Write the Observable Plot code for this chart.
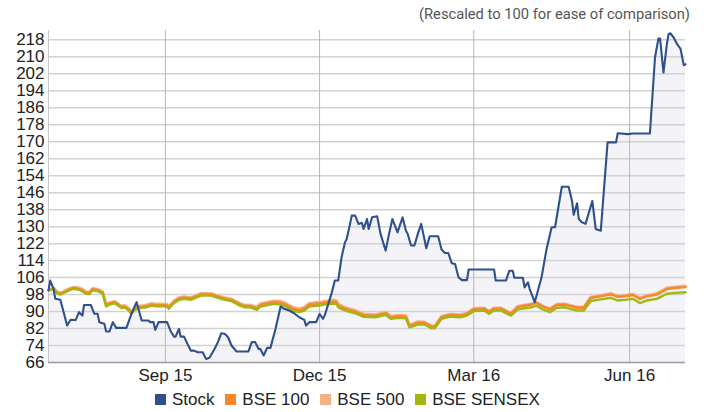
<!DOCTYPE html>
<html><head><meta charset="utf-8">
<script src="https://cdn.jsdelivr.net/npm/d3@7"></script>
<script src="https://cdn.jsdelivr.net/npm/@observablehq/plot@0.6"></script>
<style>
body{margin:0;background:#fff;font-family:"Liberation Sans",Arial,sans-serif;}
#wrap{position:relative;width:707px;height:412px;overflow:hidden;}
#legend{position:absolute;left:155px;top:391px;display:flex;align-items:center;gap:10.8px;font-size:17px;line-height:17px;color:#222;white-space:nowrap;}
.item{display:flex;align-items:center;gap:6px;}
.sw{width:11px;height:11px;display:inline-block;}
</style></head><body><div id="wrap"></div>
<script>
const stockDates = ["2015-06-24","2015-06-25","2015-06-27","2015-06-28","2015-07-01","2015-07-05","2015-07-07","2015-07-10","2015-07-12","2015-07-14","2015-07-15","2015-07-19","2015-07-21","2015-07-23","2015-07-24","2015-07-27","2015-07-28","2015-07-30","2015-08-01","2015-08-03","2015-08-09","2015-08-12","2015-08-15","2015-08-18","2015-08-22","2015-08-23","2015-08-25","2015-08-26","2015-08-28","2015-09-02","2015-09-04","2015-09-06","2015-09-07","2015-09-09","2015-09-10","2015-09-12","2015-09-14","2015-09-16","2015-09-18","2015-09-20","2015-09-23","2015-09-25","2015-09-27","2015-09-30","2015-10-02","2015-10-04","2015-10-06","2015-10-08","2015-10-10","2015-10-13","2015-10-20","2015-10-22","2015-10-24","2015-10-26","2015-10-27","2015-10-29","2015-10-31","2015-11-02","2015-11-05","2015-11-08","2015-11-10","2015-11-13","2015-11-16","2015-11-19","2015-11-22","2015-11-23","2015-11-25","2015-11-29","2015-12-01","2015-12-03","2015-12-04","2015-12-08","2015-12-10","2015-12-12","2015-12-14","2015-12-16","2015-12-17","2015-12-19","2015-12-20","2015-12-22","2015-12-24","2015-12-26","2015-12-27","2015-12-29","2015-12-30","2016-01-01","2016-01-04","2016-01-06","2016-01-09","2016-01-11","2016-01-13","2016-01-16","2016-01-19","2016-01-21","2016-01-22","2016-01-24","2016-01-26","2016-01-28","2016-01-30","2016-02-02","2016-02-04","2016-02-09","2016-02-11","2016-02-13","2016-02-15","2016-02-17","2016-02-19","2016-02-21","2016-02-23","2016-02-26","2016-02-27","2016-03-13","2016-03-14","2016-03-20","2016-03-22","2016-03-24","2016-03-25","2016-03-30","2016-03-31","2016-04-02","2016-04-03","2016-04-06","2016-04-10","2016-04-13","2016-04-16","2016-04-18","2016-04-22","2016-04-26","2016-04-28","2016-04-29","2016-05-01","2016-05-02","2016-05-04","2016-05-06","2016-05-10","2016-05-12","2016-05-15","2016-05-19","2016-05-24","2016-05-25","2016-05-31","2016-06-03","2016-06-13","2016-06-16","2016-06-18","2016-06-19","2016-06-21","2016-06-23","2016-06-24","2016-06-25","2016-06-27","2016-06-29","2016-07-01","2016-07-03","2016-07-04"];
const stockValues = [100,104.6,100.7,96,95.6,83.4,86.1,86,89.7,88.1,93.1,93.1,89,89,85,84.2,80.6,80.6,85,82.3,82.3,89,94.4,85.8,85.8,85,85,81.4,85,85,81,78.2,78.2,81.8,78.2,78.2,74.8,71.6,71.6,70.8,70.8,67.7,68.2,72.4,75.6,79.8,79.5,77.9,74,71.2,71.2,75.6,75.6,72.4,72.4,69.3,72.9,72.9,81.8,92.4,91.3,90.5,89.2,87.3,86.1,83.4,85,85,88.9,86.6,88.1,98.3,104.6,104.6,115.6,122.6,124.2,131.3,135.2,135.2,131.3,131.8,128.9,133.6,128.9,134.4,134.9,126.6,118.7,126.6,133.6,127.3,134.4,128.1,126.6,121.1,121.1,126.6,131.3,119.8,125.5,125.5,119.2,117.6,117.6,112.8,112.4,106.2,104.8,104.8,109.8,109.8,104.6,104.6,109.2,109.2,105.9,105.9,101.4,103.8,100.7,94.4,106,119.5,129.7,129.7,148.8,148.8,142.2,135.6,141,133.6,132,131.3,142.1,128.9,128.1,169.7,169.7,174,173.6,173.9,173.9,209.7,218.6,218.6,202.6,216,220.7,221.1,219.1,216,213.9,206.1,206.5];

const indexDates = ["2015-06-24","2015-06-27","2015-06-29","2015-07-01","2015-07-04","2015-07-07","2015-07-09","2015-07-12","2015-07-14","2015-07-16","2015-07-18","2015-07-20","2015-07-23","2015-07-26","2015-07-28","2015-07-30","2015-08-02","2015-08-04","2015-08-06","2015-08-08","2015-08-10","2015-08-12","2015-08-14","2015-08-17","2015-08-20","2015-08-24","2015-08-26","2015-08-30","2015-09-02","2015-09-03","2015-09-06","2015-09-09","2015-09-12","2015-09-16","2015-09-19","2015-09-22","2015-09-28","2015-10-01","2015-10-06","2015-10-10","2015-10-15","2015-10-18","2015-10-21","2015-10-25","2015-10-27","2015-10-30","2015-11-04","2015-11-08","2015-11-11","2015-11-15","2015-11-19","2015-11-22","2015-11-25","2015-12-02","2015-12-06","2015-12-09","2015-12-11","2015-12-12","2015-12-16","2015-12-22","2015-12-27","2016-01-03","2016-01-09","2016-01-12","2016-01-17","2016-01-21","2016-01-23","2016-01-25","2016-01-28","2016-02-01","2016-02-05","2016-02-07","2016-02-11","2016-02-16","2016-02-22","2016-02-26","2016-03-01","2016-03-07","2016-03-10","2016-03-13","2016-03-17","2016-03-20","2016-03-23","2016-03-27","2016-04-04","2016-04-07","2016-04-10","2016-04-15","2016-04-19","2016-04-24","2016-04-27","2016-05-01","2016-05-05","2016-05-09","2016-05-17","2016-05-21","2016-05-25","2016-05-29","2016-06-03","2016-06-07","2016-06-11","2016-06-17","2016-06-23","2016-06-28","2016-07-04"];
const sensex = [100,100.5,98.6,98,99.1,100.2,100.7,100.2,99.6,98.4,98.2,100,99.6,98.4,92.4,93.3,
93.9,92.8,91.7,91.9,90.8,89,90.8,91.7,91.9,92.8,92.5,92.5,
92.4,91.3,93.9,95.5,96,95.5,96.5,97.5,97.5,
96.7,95.5,94.9,92.8,92,92,90.8,92.4,92.8,
93.6,93.3,92.4,90.5,89.7,90.5,92.4,
93,93.5,93.8,93.5,92,90.5,89.2,87.5,
87.3,88.5,86.6,87,86.8,82.6,83,84,
83.9,82.1,82.1,86.6,87.6,87.3,88.1,
90.2,90.5,89,90.5,90.5,89.2,88.1,91,
92,92.8,91.3,89.7,91.8,92,91.3,
90.5,90.5,95,96,96.5,95.2,95.5,
96,94,95.2,96,98.4,98.8,
99.1];
const bse100 = [100,100.9,99.0,98.4,99.5,100.7,101.2,100.7,100.1,98.9,98.7,100.5,100.1,98.9,92.9,93.8,
94.4,93.3,92.2,92.4,91.3,89.5,91.3,92.2,92.4,93.3,93,93,
92.9,91.8,94.5,96.1,96.6,96.1,97.1,98.1,98.1,
97.3,96.1,95.5,93.4,92.6,92.6,91.5,93.1,93.6,
94.4,94.2,93.3,91.4,90.6,91.4,93.3,
93.9,94.4,94.7,94.4,92.9,91.4,90,88.3,
88.1,89.3,87.4,87.8,87.6,83.4,83.8,84.8,
84.7,82.9,82.9,87.4,88.4,88.1,88.9,
91.1,91.4,89.9,91.4,91.4,90.1,89,92.1,
93.3,94.1,92.6,91,93.1,93.3,92.6,
91.8,91.8,96.4,97.5,98.1,96.9,97.2,
97.8,95.9,97.1,98,100.6,101.1,
101.5];
const bse500 = [100,101.3,99.4,98.8,100,101.1,101.6,101.2,100.6,99.4,99.2,101,100.6,99.4,93.4,94.3,
94.9,93.8,92.7,92.9,91.8,90,91.8,92.7,93,93.9,93.6,93.6,
93.5,92.4,95,96.6,97.1,96.6,97.6,98.6,98.6,
97.8,96.6,96,93.9,93.1,93.2,92.1,93.8,94.3,
95.1,94.9,94,92.1,91.3,92.1,94,
94.6,95.2,95.5,95.2,93.6,92,90.6,88.9,
88.6,89.8,87.9,88.3,88.1,83.9,84.3,85.3,
85.2,83.3,83.3,87.9,88.9,88.6,89.4,
91.5,91.8,90.3,91.8,91.8,90.5,89.4,92.6,
93.7,94.5,93,91.4,93.5,93.7,93,
92.2,92.2,96.9,98,98.6,97.4,97.7,
98.3,96.4,97.6,98.6,101.2,101.7,
102.1];

const yTicks = [66,74,82,90,98,106,114,122,130,138,146,154,162,170,178,186,194,202,210,218];
const xTicks = ["2015-09-01","2015-12-01","2016-03-01","2016-06-01"];
const xDomain = ["2015-06-24","2016-07-04"];
const yDomain = [66, 222.4];
const seriesNames = ["Stock","BSE 100","BSE 500","BSE SENSEX"];
const seriesColors = ["#30508c","#f7862d","#f4b183","#a3b70e"];
const subtitle = "(Rescaled to 100 for ease of comparison)";

const parse = d3.utcParse("%Y-%m-%d");
const stock = stockDates.map((d, i) => ({date: parse(d), v: stockValues[i]}));
const mk = (arr) => indexDates.map((d, i) => ({date: parse(d), v: arr[i]}));
const d100 = mk(bse100), d500 = mk(bse500), dsx = mk(sensex);

const chart = Plot.plot({
  width: 707, height: 388,
  marginLeft: 48, marginRight: 22, marginTop: 30, marginBottom: 26,
  style: {fontFamily: "'Liberation Sans', Arial, sans-serif", fontSize: "17px", color: "#222", background: "white", overflow: "visible"},
  x: {type: "utc", domain: xDomain.map(parse), ticks: xTicks.map(parse), tickFormat: d3.utcFormat("%b %y"), tickSize: 0, tickPadding: 6, label: null},
  y: {domain: yDomain, ticks: yTicks, tickSize: 0, tickPadding: 4, label: null},
  marks: [
    Plot.areaY(stock, {x: "date", y1: yDomain[0], y2: "v", fill: "#f4f4f8"}),
    Plot.ruleY(yTicks, {stroke: "#d2d2d2", strokeWidth: 1.5}),
    Plot.ruleX(xTicks.map(parse), {stroke: "#b8b8b8", strokeWidth: 1}),
    Plot.ruleX([parse(xDomain[0])], {stroke: "#c8c8c8", strokeWidth: 1}),
    Plot.ruleY([yDomain[0]], {stroke: "#a0a0a0", strokeWidth: 1.5}),
    Plot.lineY(d500, {x: "date", y: "v", stroke: seriesColors[2], strokeWidth: 2.6}),
    Plot.lineY(d100, {x: "date", y: "v", stroke: seriesColors[1], strokeWidth: 2.4}),
    Plot.lineY(dsx, {x: "date", y: "v", stroke: seriesColors[3], strokeWidth: 2.4}),
    Plot.lineY(stock, {x: "date", y: "v", stroke: seriesColors[0], strokeWidth: 2.1})
  ]
});

const wrap = document.getElementById("wrap");
wrap.appendChild(chart);

// subtitle as real text inside the svg
const svg = d3.select(chart);
svg.append("text")
  .attr("x", 690).attr("y", 18.5)
  .attr("text-anchor", "end")
  .attr("textLength", 271).attr("lengthAdjust", "spacingAndGlyphs")
  .style("font-family", "Roboto, 'Liberation Sans', sans-serif")
  .style("font-size", "15px")
  .style("fill", "#555")
  .text(subtitle);

// legend
const legend = document.createElement("div");
legend.id = "legend";
seriesNames.forEach((n, i) => {
  const it = document.createElement("div"); it.className = "item";
  const sw = document.createElement("span"); sw.className = "sw"; sw.style.background = seriesColors[i];
  const t = document.createElement("span"); t.textContent = n;
  it.appendChild(sw); it.appendChild(t); legend.appendChild(it);
});
wrap.appendChild(legend);
</script>
</body></html>
